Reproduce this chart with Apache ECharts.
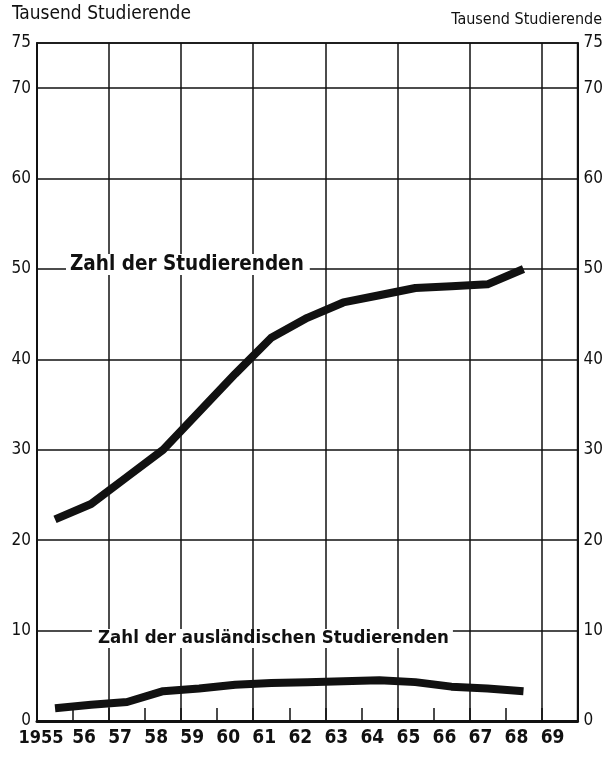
<!DOCTYPE html>
<html>
<head>
<meta charset="utf-8">
<script src="https://cdn.jsdelivr.net/npm/echarts@6/dist/echarts.min.js"></script>
<style>
  html, body { margin: 0; padding: 0; background: #fff; }
  #chart { width: 606px; height: 757px; }
</style>
</head>
<body>
<div id="chart"></div>
<script>
// Jahre (Achse) und Werte in Tausend
const years = ['1955', '56', '57', '58', '59', '60', '61', '62', '63', '64', '65', '66', '67', '68', '69']
const studenten = [22.3, 24.0, 27.0, 30.0, 34.2, 38.4, 42.4, 44.6, 46.3, 47.1, 47.9, 48.1, 48.3, 50.0, null]
const auslaender = [1.4, 1.8, 2.1, 3.3, 3.6, 4.0, 4.2, 4.3, 4.4, 4.5, 4.3, 3.8, 3.6, 3.3, null]
const yMin = 0
const yMax = 75
const yStep = 10

const font = '"DejaVu Sans Condensed", "DejaVu Sans", sans-serif'
const ink = '#111'

const chart = echarts.init(document.getElementById('chart'))

const yAxisBase = {
  type: 'value',
  min: yMin,
  max: yMax,
  interval: yStep,
  axisTick: { show: false },
  axisLabel: { color: ink, fontFamily: font, fontSize: 17, margin: 6, showMaxLabel: true }
}

const options = {
  animation: false,
  backgroundColor: '#fff',
  grid: {
    left: 37,
    right: 26,
    top: 43,
    bottom: 36,
    show: true,
    borderColor: ink,
    borderWidth: 1.5
  },
  xAxis: {
    type: 'category',
    boundaryGap: true,
    data: years,
    axisLine: { lineStyle: { color: ink, width: 3 } },
    axisTick: { show: true, inside: true, length: 13, interval: 0, lineStyle: { color: ink, width: 1.5 } },
    splitLine: { show: true, interval: 1, lineStyle: { color: ink, width: 1.5 } },
    axisLabel: {
      interval: 0,
      margin: 8,
      color: ink,
      formatter: (v, i) => i === 0 ? '{a|' + v + '}' : '{b|' + v + '}',
      rich: {
        a: { fontFamily: font, fontWeight: 'bold', fontSize: 18, color: ink, padding: [0, 28, 0, 0] },
        b: { fontFamily: font, fontWeight: 'bold', fontSize: 19, color: ink, padding: [0, 14, 0, 0] }
      }
    }
  },
  yAxis: [
    Object.assign({}, yAxisBase, {
      position: 'left',
      axisLine: { show: true, lineStyle: { color: ink, width: 2 } },
      splitLine: { show: true, lineStyle: { color: ink, width: 1.5 } }
    }),
    Object.assign({}, yAxisBase, {
      position: 'right',
      axisLine: { show: true, lineStyle: { color: ink, width: 2 } },
      splitLine: { show: false }
    })
  ],
  graphic: [
    {
      type: 'text', left: 12, top: 5,
      style: { text: 'Tausend Studierende', font: '19px ' + font, fill: ink }
    },
    {
      type: 'text', right: 4, top: 12,
      style: { text: 'Tausend Studierende', font: '16px ' + font, fill: ink }
    },
    {
      type: 'text', left: 66, top: 254, z: 10,
      style: {
        text: 'Zahl der Studierenden', font: 'bold 20.5px ' + font, fill: ink,
        backgroundColor: '#fff', padding: [0, 6, 0, 4]
      }
    },
    {
      type: 'text', left: 92, top: 629, z: 10,
      style: {
        text: 'Zahl der ausländischen Studierenden', font: 'bold 18.5px ' + font, fill: ink,
        backgroundColor: '#fff', padding: [0, 4, 0, 6]
      }
    }
  ],
  series: [
    {
      name: 'Zahl der Studierenden',
      type: 'line',
      data: studenten,
      symbol: 'none',
      z: 5,
      lineStyle: { color: ink, width: 8, join: 'round' }
    },
    {
      name: 'Zahl der ausländischen Studierenden',
      type: 'line',
      data: auslaender,
      symbol: 'none',
      z: 5,
      lineStyle: { color: ink, width: 8, join: 'round' }
    }
  ]
}

chart.setOption(options)
</script>
</body>
</html>
